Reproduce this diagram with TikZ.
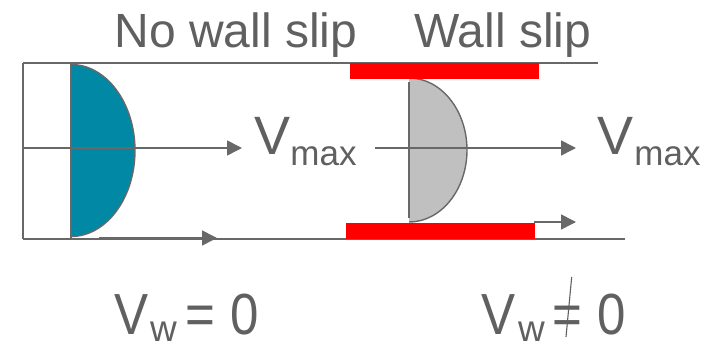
\documentclass[tikz,border=0pt]{standalone}
\usepackage{fontspec}
\setmainfont{Liberation Sans}
\usetikzlibrary{arrows.meta}
\definecolor{linegray}{RGB}{104,104,104}
\definecolor{textgray}{RGB}{96,96,96}
\definecolor{profblue}{RGB}{0,136,164}
\definecolor{profgray}{RGB}{192,192,192}
\definecolor{wallred}{RGB}{255,0,0}
\tikzset{
  wall/.style={draw=linegray,line width=1.8pt},
  flow/.style={draw=linegray,line width=1.6pt,-{Triangle[length=15pt,width=15pt]}},
  redbar/.style={fill=wallred,draw=none},
  lbl/.style={text=textgray,inner sep=0pt,anchor=base,text depth=0pt},
  big/.style={lbl,font=\fontsize{48}{48}\selectfont},
  vbig/.style={lbl,font=\fontsize{54}{54}\selectfont},
  vsub/.style={lbl,font=\fontsize{35}{35}\selectfont},
  wbig/.style={lbl,font=\fontsize{58}{58}\selectfont,xscale=0.88},
  wsub/.style={lbl,font=\fontsize{37}{37}\selectfont},
}
\begin{document}
\begin{tikzpicture}[x=1pt,y=-1pt]
\useasboundingbox (0,0) rectangle (713,344);
% coordinates
\coordinate (tl) at (23,63);
\coordinate (tr) at (598,63);
\coordinate (bl) at (23,239);
\coordinate (br) at (625,239);
\coordinate (wt) at (71,63);
\coordinate (wb) at (71,239);
\coordinate (ml) at (23,148);
\coordinate (mr) at (242,148);
\coordinate (ba1) at (99,238);
\coordinate (ba2) at (217,238);
\coordinate (m2l) at (375,148);
\coordinate (m2r) at (576,148);
\coordinate (ba3) at (534,222);
\coordinate (ba4) at (576,222);
\coordinate (gt) at (409,82);
\coordinate (gb) at (409,218);
% blue profile
\fill[profblue] (71,64.5) .. controls (106.3,64.5) and (135,103) .. (135,150.5)
   .. controls (135,198) and (106.3,236.5) .. (71,236.5) -- cycle;
\draw[linegray,line width=1.4pt] (71,64.5) .. controls (106.3,64.5) and (135,103) .. (135,150.5)
   .. controls (135,198) and (106.3,236.5) .. (71,236.5);
% gray profile
\fill[profgray] (409,78) .. controls (441,78) and (467,110.3) .. (467,150)
   .. controls (467,189.7) and (441,222) .. (409,222) -- cycle;
\draw[linegray,line width=1.4pt] (409,78) .. controls (441,78) and (467,110.3) .. (467,150)
   .. controls (467,189.7) and (441,222) .. (409,222);
\draw[wall] (gt) -- (gb);
% walls
\draw[wall] (tl) -- (tr);
\draw[wall] (bl) -- (br);
\draw[wall] (tl) -- (bl);
\draw[wall] (wt) -- (wb);
% red slip bars
\fill[redbar] (350,63) rectangle (539,79);
\fill[redbar] (346,223) rectangle (535,239);
% flow arrows
\draw[flow] (ml) -- (mr);
\draw[flow] (ba1) -- (ba2);
\draw[flow] (m2l) -- (m2r);
\draw[flow] (ba3) -- (ba4);
% titles
\node[big,anchor=base west] (t1) at (114.5,48) {No wall slip};
\node[big,anchor=base west] (t2) at (414,48) {Wall slip};
% Vmax labels
\node[vbig] (v1) at (273,155) {V};
\node[vsub] (m1) at (323.5,166) {max};
\node[vbig] (v2) at (615.5,155) {V};
\node[vsub] (m2) at (667.5,166) {max};
% Vw = 0
\node[wbig] (w1v) at (131.5,335) {V};
\node[wsub] (w1s) at (163.5,342) {w};
\node[wbig] (w1e) at (200.5,335) {=};
\node[wbig] (w1z) at (244.5,335) {0};
% Vw != 0
\node[wbig] (w2v) at (498.5,335) {V};
\node[wsub] (w2s) at (531.5,342) {w};
\node[wbig] (w2e) at (567.5,335) {=};
\node[wbig] (w2z) at (612,335) {0};
\coordinate (sl1) at (571.7,277);
\coordinate (sl2) at (566,337);
\draw[textgray,line width=1.1pt] (sl1) -- (sl2);
\end{tikzpicture}
\end{document}
